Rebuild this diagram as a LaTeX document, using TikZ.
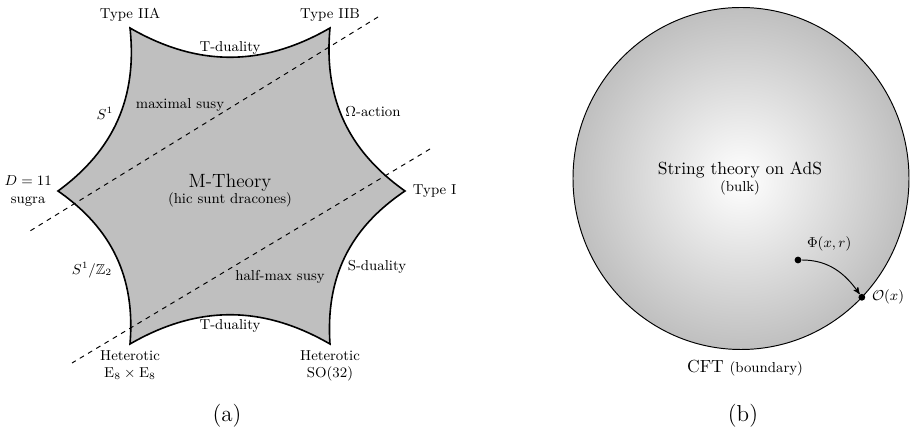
\documentclass[tikz,border=0pt,11pt]{standalone}
\usepackage{amssymb}
\usetikzlibrary{arrows,positioning}

\tikzset{
  lbl/.style={font=\footnotesize},
  side/.style={bend right=30},
  dot/.style={circle,fill,inner sep=1.5pt},
}

\begin{document}
\begin{tikzpicture}[>=stealth',semithick,x=0.625pt,y=0.625pt]
\useasboundingbox (0,0) rectangle (910,428);

% (a) the corners of the moduli space
\coordinate (iia) at (130,400);
\coordinate (iib) at (330,400);
\coordinate (ti)  at (405,237);
\coordinate (so)  at (330,84);
\coordinate (ee)  at (130,84);
\coordinate (dd)  at (58,237);

\filldraw[fill=lightgray,line width=1pt] (iia) to[side] (iib) to[side] (ti) to[side] (so)
    to[side] (ee) to[side] (dd) to[side] (iia) -- cycle;

\coordinate (u1) at (378,411);
\coordinate (u2) at (30,197);
\coordinate (l1) at (430,279);
\coordinate (l2) at (72,65);
\draw[dashed] (u1) -- (u2);
\draw[dashed] (l1) -- (l2);

\node (liia) [lbl,above=0pt of iia] {Type IIA};
\node (liib) [lbl,above=0pt of iib] {Type IIB};
\node (lti) [lbl,right=1pt of ti] {Type I};
\node (ldd) [lbl,left=0pt of dd,align=center] {$D=11$\\sugra};
\node (lee) [lbl,below=0pt of ee,align=center] {Heterotic\\$\mathrm{E}_8\times\mathrm{E}_8$};
\node (lso) [lbl,below=0pt of so,align=center] {Heterotic\\SO(32)};

\node (ttop) [lbl] at (230,380) {T-duality};
\node (tbot) [lbl] at (230,102) {T-duality};
\node (sone) [lbl] at (105,315) {$S^1$};
\node (maxs) [lbl] at (180,323) {maximal susy};
\node (omeg) [lbl] at (373,316) {$\Omega$-action};
\node (sztw) [lbl] at (92,158) {$S^1/\mathbb{Z}_2$};
\node (half) [lbl] at (280,151) {half-max susy};
\node (sdua) [lbl] at (377,161) {S-duality};

\node (mth) [font=\large] at (230,245) {M-Theory};
\node (hic) [lbl] at (230,228) {(hic sunt dracones)};

\node (capa) [font=\Large] at (227,12) {(a)};

% (b) bulk and boundary
\coordinate (ctr) at (741,249.5);
\shadedraw[inner color=white,outer color=lightgray] (ctr) ellipse [x radius=168,y radius=171];

\node (ads) at (740,258) {String theory on AdS};
\node (blk) [lbl] at (740,240) {(bulk)};

\node (phi) [dot] at (798,168) {};
\node (lphi) [lbl,above right=0pt of phi] {$\Phi(x,r)$};
\node (ox) [dot] at ([shift={(-44:168 and 171)}]ctr) {};
\node (lox) [lbl,right=0pt of ox] {$\mathcal{O}(x)$};
\draw[->] (phi) to[out=0,in=125] (ox);

\node (cft) at (745,60) {CFT {\footnotesize (boundary)}};
\node (capb) [font=\Large] at (743,12) {(b)};
\end{tikzpicture}
\end{document}
